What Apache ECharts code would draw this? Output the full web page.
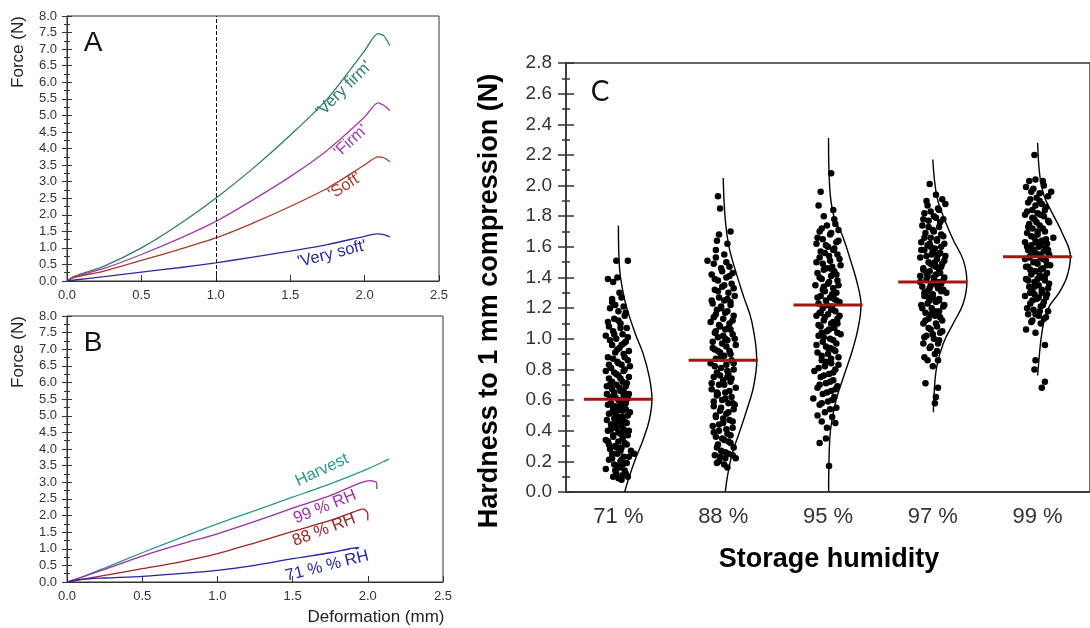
<!DOCTYPE html>
<html>
<head>
<meta charset="utf-8">
<script src="https://cdn.jsdelivr.net/npm/echarts@6/dist/echarts.min.js"></script>
<style>html,body{margin:0;padding:0;background:#fff}#chart{width:1090px;height:628px}</style>
</head>
<body>
<div id="chart"></div>
<script>
// Panel A: force vs deformation by firmness class [mm, N]
const veryFirm = [[0,0],[0.05,0.14],[0.25,0.45],[0.5,1.0],[0.75,1.7],[1.0,2.5],[1.25,3.4],[1.5,4.4],[1.75,5.5],[2.0,6.95],[2.09,7.47],[2.13,7.4],[2.17,7.1]];
const firm = [[0,0],[0.05,0.13],[0.25,0.38],[0.5,0.8],[0.75,1.27],[1.0,1.8],[1.25,2.45],[1.5,3.15],[1.75,3.95],[2.0,4.95],[2.09,5.38],[2.13,5.3],[2.17,5.15]];
const soft = [[0,0],[0.05,0.11],[0.25,0.3],[0.5,0.62],[0.75,0.95],[1.0,1.3],[1.25,1.75],[1.5,2.25],[1.75,2.8],[2.0,3.5],[2.09,3.75],[2.13,3.72],[2.17,3.6]];
const verySoft = [[0,0],[0.05,0.03],[0.25,0.13],[0.5,0.27],[0.75,0.4],[1.0,0.55],[1.25,0.72],[1.5,0.9],[1.75,1.1],[2.0,1.35],[2.08,1.42],[2.13,1.4],[2.17,1.33]];

// Panel B: force vs deformation after storage
const harvest = [[0,0],[0.1,0.15],[0.25,0.42],[0.5,0.88],[0.75,1.32],[1.0,1.75],[1.25,2.15],[1.5,2.55],[1.75,2.95],[2.0,3.4],[2.14,3.7],[2.11,3.62]];
const rh99 = [[0,0],[0.1,0.15],[0.25,0.38],[0.5,0.78],[0.75,1.13],[1.0,1.45],[1.25,1.82],[1.5,2.22],[1.75,2.6],[1.95,2.98],[2.02,3.05],[2.06,2.98],[2.06,2.8]];
const rh88 = [[0,0],[0.1,0.08],[0.25,0.2],[0.5,0.4],[0.75,0.6],[1.0,0.85],[1.25,1.18],[1.5,1.52],[1.75,1.85],[1.93,2.15],[1.97,2.2],[2.0,2.05],[2.0,1.85]];
const rh71 = [[0,0],[0.1,0.08],[0.25,0.12],[0.5,0.17],[0.75,0.25],[1.0,0.35],[1.25,0.5],[1.5,0.7],[1.75,0.88],[1.88,1.0],[1.94,1.04],[1.92,0.99]];

// Panel C: hardness per storage humidity
const humidity = ['71 %', '88 %', '95 %', '97 %', '99 %'];
const means = [0.605, 0.86, 1.22, 1.37, 1.535];
// points as [jitter offset from category, hardness N]
const g71 = [[-0.02,1.51],[0.09,1.51],[-0.10,1.39],[-0.05,1.37],[-0.01,1.40],[0.01,1.30],[-0.06,1.26],[0.03,1.27],[-0.03,1.22],[0.05,1.21],[-0.08,1.20],[0.00,1.18],[0.06,1.15],[-0.04,1.13],[0.02,1.10],[-0.09,1.08],[0.08,1.07],[-0.12,1.02],[0.04,1.03],[-0.02,1.00],[0.07,0.98],[-0.06,0.96],[0.01,0.94],[-0.03,0.91],[0.05,0.90],[-0.10,0.88],[0.09,0.86],[-0.01,0.85],[0.03,0.83],[-0.07,0.81],[0.06,0.80],[-0.04,0.78],[0.00,0.76],[0.10,0.75],[-0.09,0.74],[0.04,0.72],[-0.02,0.70],[0.07,0.69],[-0.06,0.67],[0.02,0.66],[-0.11,0.64],[0.05,0.63],[-0.03,0.62],[0.09,0.61],[0.00,0.60],[-0.07,0.58],[0.03,0.57],[-0.05,0.55],[0.07,0.54],[-0.01,0.53],[0.11,0.52],[-0.09,0.51],[0.04,0.49],[-0.04,0.48],[0.01,0.46],[0.08,0.45],[-0.07,0.44],[-0.02,0.42],[0.05,0.41],[-0.10,0.40],[0.02,0.38],[0.09,0.37],[-0.05,0.36],[-0.12,0.34],[0.00,0.33],[0.06,0.32],[-0.03,0.30],[0.03,0.29],[-0.08,0.28],[0.12,0.27],[0.15,0.25],[-0.01,0.25],[0.05,0.23],[-0.06,0.22],[0.02,0.20],[0.08,0.19],[-0.04,0.18],[-0.12,0.15],[0.01,0.16],[0.06,0.14],[-0.02,0.12],[0.04,0.11],[0.09,0.10],[0.00,0.09],[0.03,0.08],[-0.05,1.05],[0.05,0.97],[-0.08,0.70],[0.08,0.63],[0.02,0.56],[-0.02,0.50],[0.06,0.39],[-0.09,0.31],[0.03,0.21],[-0.03,0.14],[0.00,1.12],[0.10,0.92],[-0.12,0.79],
    [-0.06,1.24],[0.07,1.17],[-0.10,1.11],[0.02,1.07],[-0.04,1.03],[0.09,1.01],[-0.08,0.99],[0.03,0.96],[-0.01,0.93],[0.06,0.88],[-0.05,0.87],[0.00,0.84],[0.11,0.82],[-0.09,0.83],[0.05,0.79],[-0.02,0.77],[0.02,0.74],[-0.06,0.72],[0.08,0.71],[-0.11,0.69],[0.01,0.68],[0.05,0.66],[-0.04,0.65],[0.10,0.64],[-0.08,0.62],[0.02,0.59],[0.07,0.58],[-0.10,0.57],[-0.03,0.56],[0.04,0.53],[-0.06,0.52],[0.09,0.50],[0.00,0.49],[-0.11,0.47],[0.06,0.46],[-0.03,0.45],[0.03,0.43],[-0.07,0.41],[0.10,0.40],[0.00,0.39],[-0.05,0.37],[0.04,0.35],[-0.10,0.33],[0.08,0.31],[-0.02,0.29],[0.02,0.27],[-0.06,0.25],[0.10,0.23],[-0.09,0.21],[0.04,0.18],[-0.01,0.17],[0.07,0.12],[-0.05,0.10]];
const g88 = [[-0.05,1.93],[-0.03,1.85],[0.07,1.70],[-0.04,1.68],[-0.06,1.64],[-0.07,1.58],[0.04,1.62],[-0.15,1.51],[0.01,1.55],[-0.09,1.49],[0.06,1.47],[-0.02,1.46],[0.09,1.43],[-0.11,1.42],[0.03,1.40],[-0.05,1.38],[0.08,1.36],[-0.01,1.34],[-0.08,1.32],[0.05,1.30],[0.11,1.28],[-0.04,1.27],[0.01,1.25],[-0.10,1.23],[0.07,1.22],[-0.02,1.20],[0.04,1.18],[-0.07,1.16],[0.10,1.15],[0.00,1.13],[-0.12,1.11],[0.06,1.10],[-0.03,1.08],[0.02,1.06],[-0.08,1.04],[0.09,1.03],[-0.05,1.01],[0.04,0.99],[-0.01,0.97],[0.12,0.96],[-0.10,0.94],[0.06,0.92],[-0.03,0.91],[0.01,0.89],[-0.07,0.87],[0.08,0.86],[-0.12,0.84],[0.03,0.83],[-0.02,0.81],[0.10,0.80],[-0.06,0.78],[0.05,0.77],[-0.09,0.75],[0.00,0.73],[0.07,0.72],[-0.04,0.70],[0.12,0.68],[-0.11,0.67],[0.02,0.65],[-0.06,0.63],[0.08,0.62],[-0.01,0.60],[0.05,0.58],[-0.09,0.56],[0.10,0.54],[-0.03,0.53],[0.03,0.51],[-0.07,0.49],[0.06,0.47],[0.00,0.45],[-0.10,0.43],[0.09,0.42],[-0.04,0.40],[0.04,0.38],[-0.07,0.36],[0.01,0.34],[0.07,0.32],[-0.05,0.31],[0.10,0.29],[-0.02,0.27],[0.05,0.25],[-0.08,0.24],[0.12,0.22],[0.02,0.22],[-0.06,0.19],[-0.04,0.20],[0.04,0.16],[0.01,0.18],[-0.06,1.19],[0.07,1.06],[-0.08,0.93],[0.04,0.75],[-0.05,0.64],[0.09,0.58],[-0.02,0.88],[0.02,1.00],
    [-0.07,1.53],[0.03,1.50],[-0.01,1.44],[0.06,1.41],[-0.08,1.39],[0.01,1.35],[0.10,1.33],[-0.05,1.31],[0.04,1.26],[-0.11,1.25],[0.07,1.24],[-0.02,1.21],[0.02,1.17],[-0.09,1.14],[0.09,1.12],[-0.04,1.09],[0.05,1.07],[-0.07,1.05],[0.00,1.02],[0.11,1.00],[-0.10,0.98],[0.03,0.95],[-0.05,0.92],[0.07,0.90],[-0.01,0.87],[0.10,0.84],[-0.08,0.82],[0.04,0.79],[-0.03,0.76],[0.08,0.74],[-0.11,0.71],[0.01,0.70],[0.06,0.66],[-0.06,0.65],[0.02,0.61],[-0.09,0.59],[0.11,0.57],[-0.02,0.55],[0.05,0.52],[-0.07,0.50],[0.00,0.48],[0.09,0.46],[-0.04,0.44],[0.03,0.41],[-0.09,0.39],[0.07,0.37],[-0.01,0.35],[0.05,0.33],[-0.06,0.29],[0.02,0.26],[0.09,0.24],[-0.03,0.23]];
const g95 = [[0.03,2.08],[-0.07,1.96],[-0.09,1.87],[0.05,1.84],[-0.04,1.80],[0.06,1.78],[-0.01,1.74],[0.10,1.71],[-0.08,1.70],[0.02,1.68],[-0.05,1.65],[0.08,1.63],[-0.11,1.62],[0.00,1.60],[0.05,1.58],[-0.03,1.56],[0.09,1.55],[-0.08,1.53],[0.02,1.51],[-0.05,1.49],[0.12,1.48],[-0.01,1.46],[0.06,1.44],[-0.10,1.43],[0.03,1.41],[-0.06,1.39],[0.09,1.38],[0.00,1.36],[-0.12,1.35],[0.05,1.33],[-0.03,1.31],[0.08,1.30],[-0.07,1.28],[0.02,1.27],[-0.02,1.25],[0.11,1.24],[-0.09,1.23],[0.04,1.21],[-0.05,1.20],[0.07,1.18],[0.00,1.16],[-0.11,1.15],[0.09,1.13],[-0.04,1.12],[0.03,1.10],[-0.07,1.08],[0.06,1.07],[-0.01,1.05],[0.12,1.03],[-0.09,1.02],[0.02,1.00],[-0.05,0.98],[0.08,0.97],[-0.02,0.95],[0.05,0.93],[-0.10,0.91],[0.00,0.90],[0.10,0.88],[-0.06,0.86],[0.03,0.84],[-0.03,0.82],[0.07,0.80],[-0.13,0.79],[0.01,0.77],[-0.07,0.75],[0.05,0.73],[-0.02,0.71],[0.09,0.69],[-0.10,0.68],[0.03,0.66],[-0.05,0.64],[-0.14,0.61],[0.06,0.62],[0.00,0.59],[-0.08,0.57],[0.08,0.55],[-0.03,0.52],[0.04,0.49],[-0.06,0.46],[0.07,0.45],[-0.01,0.42],[-0.08,0.32],[-0.02,0.35],[0.01,0.17],[0.06,1.26],[-0.08,1.17],[0.04,1.45],[-0.04,1.34],[0.09,1.10],[0.02,0.94],[-0.06,1.04],
    [0.07,1.75],[-0.06,1.72],[0.03,1.69],[-0.10,1.66],[0.10,1.64],[-0.02,1.61],[0.06,1.59],[-0.07,1.57],[0.01,1.54],[0.11,1.52],[-0.11,1.50],[0.04,1.47],[-0.04,1.45],[0.08,1.42],[-0.08,1.40],[0.01,1.37],[0.10,1.35],[-0.05,1.32],[0.04,1.29],[-0.10,1.27],[0.08,1.25],[-0.01,1.22],[0.03,1.19],[-0.07,1.17],[0.11,1.15],[-0.03,1.14],[0.05,1.11],[-0.09,1.09],[0.01,1.06],[0.09,1.04],[-0.04,1.01],[0.05,0.99],[-0.11,0.96],[0.00,0.94],[0.07,0.92],[-0.06,0.89],[0.03,0.87],[-0.02,0.85],[0.10,0.83],[-0.09,0.81],[0.05,0.78],[-0.04,0.76],[0.02,0.72],[-0.08,0.70],[0.07,0.67],[-0.01,0.65],[0.04,0.60],[-0.06,0.58],[0.02,0.54],[-0.10,0.50]];
const g97 = [[-0.03,2.01],[0.03,1.94],[0.09,1.91],[0.12,1.88],[-0.05,1.87],[0.05,1.85],[-0.08,1.82],[0.01,1.80],[0.10,1.78],[-0.04,1.77],[-0.10,1.74],[0.06,1.73],[0.00,1.71],[-0.07,1.69],[0.08,1.68],[-0.02,1.66],[0.04,1.65],[-0.11,1.63],[0.11,1.62],[-0.05,1.61],[0.02,1.59],[-0.08,1.58],[0.07,1.56],[-0.01,1.55],[0.12,1.54],[-0.12,1.53],[0.04,1.52],[-0.04,1.50],[0.09,1.49],[0.00,1.48],[-0.09,1.46],[0.06,1.45],[-0.03,1.44],[0.03,1.42],[-0.12,1.41],[0.11,1.40],[-0.06,1.39],[0.01,1.38],[0.08,1.36],[-0.02,1.35],[-0.10,1.34],[0.05,1.33],[-0.05,1.31],[0.13,1.30],[0.00,1.29],[-0.08,1.28],[0.06,1.26],[-0.03,1.25],[0.03,1.24],[-0.11,1.22],[0.10,1.21],[-0.01,1.20],[0.06,1.18],[-0.07,1.17],[0.02,1.15],[-0.04,1.13],[0.09,1.12],[-0.09,1.10],[0.04,1.08],[-0.02,1.06],[0.07,1.04],[-0.06,1.02],[0.01,1.00],[0.06,0.99],[-0.09,0.97],[-0.03,0.94],[0.04,0.92],[-0.08,0.88],[0.05,0.86],[0.00,0.82],[-0.07,0.71],[0.05,0.68],[0.03,0.62],[0.02,0.58],[0.08,1.47],[-0.06,1.43],[0.05,1.37],[-0.04,1.27],[0.02,1.50],[-0.02,1.60],[0.10,1.32],
    [-0.06,1.90],[0.06,1.84],[-0.02,1.83],[0.03,1.79],[-0.09,1.78],[0.07,1.76],[-0.04,1.73],[0.01,1.70],[0.10,1.67],[-0.08,1.66],[0.04,1.64],[-0.03,1.62],[0.08,1.60],[-0.11,1.58],[0.00,1.57],[0.05,1.55],[-0.06,1.54],[0.11,1.51],[-0.02,1.49],[0.03,1.47],[-0.09,1.45],[0.07,1.43],[-0.05,1.41],[0.01,1.40],[0.10,1.38],[-0.12,1.37],[0.04,1.35],[-0.03,1.33],[0.08,1.31],[-0.08,1.30],[0.00,1.27],[0.06,1.25],[-0.05,1.23],[0.11,1.22],[-0.10,1.20],[0.02,1.18],[-0.02,1.16],[0.07,1.14],[-0.07,1.12],[0.03,1.10],[-0.04,1.07],[0.09,1.05],[0.00,1.03],[-0.08,1.01],[0.05,0.97],[-0.02,0.95],[0.02,0.90],[-0.05,0.86]];
const g99 = [[-0.03,2.20],[-0.08,2.03],[-0.02,2.04],[0.05,2.03],[0.13,1.96],[-0.11,1.99],[-0.06,1.96],[0.02,1.95],[-0.01,1.92],[-0.09,1.89],[0.04,1.88],[0.08,1.86],[-0.05,1.84],[0.00,1.82],[-0.12,1.81],[0.06,1.80],[-0.03,1.78],[0.10,1.77],[-0.08,1.75],[0.02,1.74],[-0.05,1.72],[0.07,1.70],[-0.10,1.69],[0.00,1.68],[0.15,1.66],[-0.03,1.66],[0.04,1.64],[-0.12,1.63],[0.09,1.62],[-0.06,1.61],[0.01,1.60],[-0.09,1.58],[0.06,1.57],[-0.02,1.56],[0.11,1.55],[-0.07,1.54],[0.03,1.53],[-0.12,1.52],[0.08,1.51],[-0.04,1.50],[0.00,1.49],[0.12,1.48],[-0.09,1.47],[0.05,1.46],[-0.02,1.44],[0.09,1.43],[-0.06,1.42],[0.02,1.41],[-0.11,1.39],[0.07,1.38],[-0.03,1.37],[0.01,1.35],[-0.08,1.34],[0.10,1.33],[-0.05,1.31],[0.04,1.30],[-0.12,1.28],[0.08,1.27],[-0.01,1.26],[0.06,1.24],[-0.07,1.23],[0.03,1.21],[-0.04,1.19],[0.10,1.18],[-0.09,1.16],[0.01,1.15],[0.06,1.13],[-0.05,1.12],[0.03,1.10],[-0.11,1.06],[-0.02,1.04],[0.07,0.96],[-0.02,0.86],[-0.03,0.80],[0.07,0.72],[0.04,0.68],[0.05,1.52],[-0.04,1.58],[0.04,1.40],[-0.07,1.45],[0.01,1.63],[-0.03,1.29],[0.08,1.59],
    [0.06,2.00],[-0.04,1.98],[0.10,1.93],[-0.07,1.91],[0.02,1.90],[-0.02,1.87],[0.07,1.84],[-0.10,1.83],[0.03,1.81],[-0.05,1.79],[0.11,1.76],[-0.01,1.76],[-0.09,1.73],[0.05,1.72],[0.00,1.70],[-0.06,1.67],[0.08,1.65],[-0.02,1.63],[0.03,1.61],[-0.10,1.60],[0.10,1.58],[-0.04,1.57],[0.02,1.55],[-0.08,1.53],[0.06,1.52],[-0.01,1.50],[0.09,1.48],[-0.11,1.47],[0.03,1.45],[-0.05,1.44],[0.07,1.41],[0.00,1.39],[-0.09,1.38],[0.11,1.36],[-0.03,1.34],[0.04,1.32],[-0.07,1.30],[0.09,1.29],[0.01,1.27],[-0.05,1.25],[0.05,1.22],[-0.10,1.20],[0.02,1.18],[-0.02,1.16],[0.08,1.14],[-0.06,1.11]];
const groups = [g71, g88, g95, g97, g99];
// fitted distribution outline, traced: [offset right of category, hardness N]
const curve71 = [[0,1.74],[0.01,1.47],[0.04,1.32],[0.085,1.19],[0.16,1.035],[0.235,0.905],[0.295,0.75],[0.32,0.605],[0.295,0.47],[0.235,0.34],[0.16,0.21],[0.094,0.08],[0.06,0]];
const curve88 = [[0,2.05],[0.02,1.775],[0.055,1.6],[0.115,1.45],[0.195,1.275],[0.27,1.12],[0.32,0.86],[0.29,0.69],[0.225,0.535],[0.15,0.38],[0.085,0.25],[0.04,0.1],[0.02,0]];
const curve95 = [[0.005,2.31],[0.016,1.99],[0.056,1.8],[0.14,1.67],[0.216,1.51],[0.28,1.36],[0.315,1.22],[0.29,1.08],[0.235,0.93],[0.16,0.775],[0.085,0.62],[0.038,0.47],[0.016,0.34],[0.006,0]];
const curve97 = [[0,2.17],[0.038,1.93],[0.1,1.8],[0.195,1.645],[0.29,1.515],[0.325,1.373],[0.29,1.23],[0.195,1.1],[0.1,0.97],[0.038,0.82],[0.012,0.64],[0.006,0.52]];
const curve99 = [[0,2.28],[0.022,2.06],[0.063,1.93],[0.14,1.82],[0.235,1.69],[0.313,1.535],[0.28,1.405],[0.204,1.3],[0.11,1.21],[0.063,1.12],[0.031,0.99],[0.01,0.84],[0,0.76]];
const curves = [curve71, curve88, curve95, curve97, curve99];

const chart = echarts.init(document.getElementById('chart'));
const FF = "'Liberation Sans', Arial, sans-serif";
const AX = '#333';

function forceLine(data, color, idx) {
    return {
        type: 'line', xAxisIndex: idx, yAxisIndex: idx * 2, data: data,
        smooth: 0.25, showSymbol: false, silent: true,
        lineStyle: { color: color, width: 1.3 }
    };
}

function forceX(grid) {
    return {
        type: 'value', gridIndex: grid, position: 'bottom', min: 0, max: 2.5, interval: 0.5,
        axisLine: { lineStyle: { color: AX, width: 1 } },
        axisTick: { inside: true, length: 6, lineStyle: { color: AX } },
        axisLabel: { formatter: v => v.toFixed(1), fontSize: 13, fontFamily: FF, color: '#333', margin: 8, showMinLabel: true, showMaxLabel: true },
        splitLine: { show: false }
    };
}

function forceY(grid, inside) {
    return {
        type: 'value', gridIndex: grid, position: 'left', min: 0, max: 8, interval: 0.5,
        axisLine: { show: !inside, lineStyle: { color: AX, width: 1 } },
        axisTick: { show: true, inside: inside, length: 5, lineStyle: { color: AX } },
        minorTick: { show: true, splitNumber: 2, length: 3, lineStyle: { color: AX } },
        axisLabel: { show: !inside, formatter: v => v.toFixed(1), fontSize: 13, fontFamily: FF, color: '#333', margin: 10, showMinLabel: true, showMaxLabel: true },
        splitLine: { show: false }, minorSplitLine: { show: false }
    };
}

function hardY(inside) {
    return {
        type: 'value', gridIndex: 2, position: 'left', min: 0, max: 2.8, interval: 0.2,
        axisLine: { show: !inside, lineStyle: { color: AX, width: 1.5 } },
        axisTick: { show: true, inside: inside, length: 8, lineStyle: { color: AX, width: 1.5 } },
        minorTick: { show: true, splitNumber: 2, length: 4, lineStyle: { color: AX, width: 1.5 } },
        axisLabel: { show: !inside, formatter: v => v.toFixed(1), fontSize: 19, fontFamily: FF, color: '#333', margin: 14, showMinLabel: true, showMaxLabel: true },
        splitLine: { show: false }, minorSplitLine: { show: false }
    };
}

function txt(text, x, y, size, color, deg, weight, family) {
    return {
        type: 'text', x: x, y: y, rotation: deg * Math.PI / 180, silent: true,
        style: { text: text, fontSize: size, fontWeight: weight || 'normal', fontFamily: family || FF, fill: color, align: 'center', verticalAlign: 'middle' }
    };
}

const series = [
    forceLine(veryFirm, '#2e7d68', 0),
    forceLine(firm, '#a23cab', 0),
    forceLine(soft, '#a8392c', 0),
    forceLine(verySoft, '#2b2ba0', 0),
    forceLine(harvest, '#2a9a8a', 1),
    forceLine(rh99, '#9b2fa5', 1),
    forceLine(rh88, '#a02222', 1),
    forceLine(rh71, '#2222aa', 1)
];
// dashed reference at 1 mm
series[0].markLine = {
    silent: true, symbol: 'none', label: { show: false },
    lineStyle: { type: [4, 2], color: '#111', width: 1 },
    data: [{ xAxis: 1 }]
};

groups.forEach((g, i) => {
    series.push({
        type: 'scatter', xAxisIndex: 4, yAxisIndex: 4, silent: true,
        symbolSize: 6.5, itemStyle: { color: '#000', opacity: 1 },
        data: g.map(p => [i + 1 + p[0], p[1]])
    });
});
curves.forEach((c, i) => {
    series.push({
        type: 'line', xAxisIndex: 4, yAxisIndex: 4, silent: true, showSymbol: false,
        smooth: 0.4, lineStyle: { color: '#000', width: 1.4 }, z: 3,
        data: c.map(p => [i + 1 + p[0], p[1]])
    });
});
means.forEach((m, i) => {
    series.push({
        type: 'line', xAxisIndex: 4, yAxisIndex: 4, silent: true, showSymbol: false,
        lineStyle: { color: '#a31515', width: 3 }, z: 4,
        data: [[i + 1 - 0.33, m], [i + 1 + 0.33, m]]
    });
});

const option = {
    animation: false,
    backgroundColor: '#fff',
    grid: [
        { left: 67, top: 16, width: 372, height: 265, show: true, borderColor: AX, borderWidth: 1, backgroundColor: 'transparent' },
        { left: 67, top: 316, width: 376, height: 266, show: true, borderColor: AX, borderWidth: 1, backgroundColor: 'transparent' },
        { left: 566, top: 63, width: 532, height: 429, show: true, borderColor: AX, borderWidth: 1.5, backgroundColor: 'transparent' }
    ],
    xAxis: [
        forceX(0),
        forceX(1),
        {
            type: 'category', gridIndex: 2, position: 'bottom', data: humidity, boundaryGap: true,
            axisLine: { lineStyle: { color: AX, width: 1.5 } },
            axisTick: { alignWithLabel: true, length: 8, lineStyle: { color: AX, width: 1.5 } },
            axisLabel: { fontSize: 22, fontFamily: FF, color: '#333', margin: 14 }
        },
        {
            type: 'category', gridIndex: 2, position: 'bottom', data: humidity, boundaryGap: true,
            axisLine: { show: false },
            axisTick: { alignWithLabel: true, inside: true, length: 9, lineStyle: { color: AX, width: 1.5 } },
            axisLabel: { show: false }
        },
        { type: 'value', gridIndex: 2, position: 'bottom', min: 0.5, max: 5.5, show: false, splitLine: { show: false } }
    ],
    yAxis: [
        forceY(0, false), forceY(0, true),
        forceY(1, false), forceY(1, true),
        hardY(false), hardY(true)
    ],
    series: series,
    graphic: [
        txt('Force (N)', 18, 52, 17, '#222', 90),
        txt('Force (N)', 18, 352, 17, '#222', 90),
        txt('A', 93, 43, 28, '#111', 0),
        txt('B', 93, 343, 28, '#111', 0),
        txt('Deformation (mm)', 376, 617, 17, '#222', 0),
        txt("'Very firm'", 344, 89, 16.5, '#2e7d68', 45),
        txt("'Firm'", 351, 141, 16.5, '#a23cab', 42),
        txt("'Soft'", 345, 186, 16.5, '#a8392c', 33),
        txt("'Very soft'", 332, 254, 16.5, '#2b2ba0', 14),
        txt('Harvest', 322, 470, 16.5, '#2a9a8a', 25),
        txt('99 % RH', 325, 507, 16.5, '#9b2fa5', 22),
        txt('88 % RH', 324, 530, 16.5, '#a02222', 21),
        txt('71 % % RH', 327, 566, 16.5, '#2222aa', 14),
        txt('C', 600, 92, 28, '#111', 0, 'normal', "Lato, 'Liberation Sans', Arial, sans-serif"),
        txt('Hardness to 1 mm compression (N)', 490, 301, 27, '#000', 90, 'bold'),
        txt('Storage humidity', 829, 560, 27, '#000', 0, 'bold')
    ]
};

chart.setOption(option);
</script>
</body>
</html>
